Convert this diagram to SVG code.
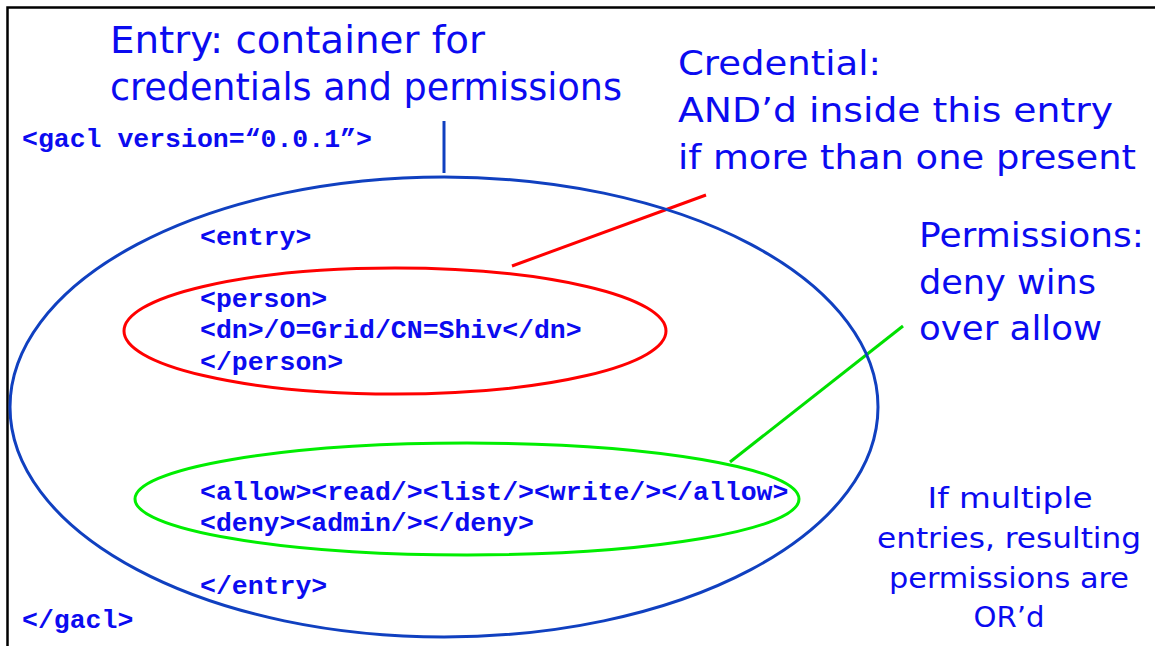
<svg xmlns="http://www.w3.org/2000/svg" width="1155" height="646" viewBox="0 0 1155 646">
<style>
.code{font-family:"Liberation Mono","Courier New",monospace;font-weight:bold;font-size:26.5px;fill:#0b0bf0}
.lbl{font-family:"DejaVu Sans",Verdana,sans-serif;fill:#0b0bf0}
.cond{font-family:"DejaVu Sans Condensed","DejaVu Sans",sans-serif;fill:#0b0bf0}
.frame{fill:none;stroke:#000;stroke-width:2.5}
</style>
<rect width="1155" height="646" fill="#fff"/>
<path class="frame" d="M7.5,646 V7.5 H1155"/>
<g id="connectors" fill="none" stroke-width="3">
<line x1="444" y1="121" x2="444" y2="173" stroke="#1040c0"/>
<line x1="512" y1="266" x2="706" y2="195" stroke="#ff0000"/>
<line x1="730" y1="462" x2="903" y2="326" stroke="#00e000"/>
</g>
<g id="entry-node">
<ellipse cx="444" cy="407" rx="434" ry="230" fill="none" stroke="#1040c0" stroke-width="3"/>
<text class="code" x="200" y="245">&lt;entry&gt;</text>
<text class="code" x="200" y="594">&lt;/entry&gt;</text>
</g>
<g id="credential-node">
<ellipse cx="395" cy="331" rx="271" ry="63" fill="none" stroke="#ff0000" stroke-width="3"/>
<text class="code" x="200" y="307">&lt;person&gt;</text>
<text class="code" x="200" y="338">&lt;dn&gt;/O=Grid/CN=Shiv&lt;/dn&gt;</text>
<text class="code" x="200" y="370">&lt;/person&gt;</text>
</g>
<g id="permissions-node">
<ellipse cx="467" cy="499" rx="332" ry="56" fill="none" stroke="#00ee00" stroke-width="3"/>
<text class="code" x="200" y="500">&lt;allow&gt;&lt;read/&gt;&lt;list/&gt;&lt;write/&gt;&lt;/allow&gt;</text>
<text class="code" x="200" y="531">&lt;deny&gt;&lt;admin/&gt;&lt;/deny&gt;</text>
</g>
<g id="gacl">
<text class="code" x="22" y="147">&lt;gacl version=“0.0.1”&gt;</text>
<text class="code" x="22" y="628">&lt;/gacl&gt;</text>
</g>
<g id="entry-label">
<text class="cond" font-size="37" x="110" y="53" textLength="375" lengthAdjust="spacingAndGlyphs">Entry: container for</text>
<text class="cond" font-size="37" x="110" y="100" textLength="512" lengthAdjust="spacingAndGlyphs">credentials and permissions</text>
</g>
<g id="credential-label">
<text class="lbl" font-size="34" x="678" y="75" textLength="203" lengthAdjust="spacingAndGlyphs">Credential:</text>
<text class="lbl" font-size="34" x="678" y="122" textLength="435" lengthAdjust="spacingAndGlyphs">AND’d inside this entry</text>
<text class="lbl" font-size="34" x="678" y="169" textLength="458" lengthAdjust="spacingAndGlyphs">if more than one present</text>
</g>
<g id="permissions-label">
<text class="lbl" font-size="34" x="919" y="247" textLength="225" lengthAdjust="spacingAndGlyphs">Permissions:</text>
<text class="lbl" font-size="34" x="919" y="294" textLength="177" lengthAdjust="spacingAndGlyphs">deny wins</text>
<text class="lbl" font-size="34" x="919" y="340" textLength="183" lengthAdjust="spacingAndGlyphs">over allow</text>
</g>
<g id="or-label" text-anchor="middle">
<text class="lbl" font-size="28" x="1010" y="508" textLength="165" lengthAdjust="spacingAndGlyphs">If multiple</text>
<text class="lbl" font-size="28" x="1009" y="548" textLength="264" lengthAdjust="spacingAndGlyphs">entries, resulting</text>
<text class="lbl" font-size="28" x="1009" y="588" textLength="240" lengthAdjust="spacingAndGlyphs">permissions are</text>
<text class="lbl" font-size="28" x="1009" y="627" textLength="71" lengthAdjust="spacingAndGlyphs">OR’d</text>
</g>
</svg>
